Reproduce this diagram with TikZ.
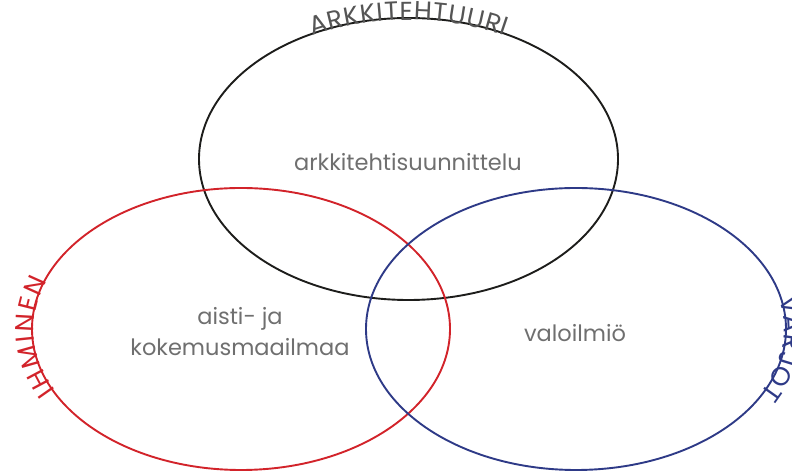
\documentclass[tikz,border=0pt]{standalone}
\usepackage{fontspec}
\setmainfont{Poppins}
\usetikzlibrary{decorations.text,calc}
\definecolor{archc}{HTML}{1D1D1B}
\definecolor{redc}{HTML}{D2232A}
\definecolor{bluec}{HTML}{2E3A87}
\definecolor{txtc}{HTML}{6F6F6F}
\definecolor{capc}{HTML}{555555}
\newcommand{\arcfont}{\fontsize{26}{26}\selectfont}
\tikzset{
  ring/.style={line width=1.9pt},
  label/.style={text=txtc, font=\fontsize{22.5}{31}\selectfont, align=center, inner sep=0pt},
  arctext/.style 2 args={decorate, decoration={text along path, text align=fit to path, raise=-2pt, text color=#1, text={#2}}}
}
\begin{document}
\begin{tikzpicture}[x=1pt,y=1pt]
\useasboundingbox (0,0) rectangle (792,473);
\coordinate (cA) at (408.5,314);
\coordinate (cR) at (241,144);
\coordinate (cB) at (576,144);
\draw[ring, archc] (cA) ellipse [x radius=209.5, y radius=141];
\draw[ring, redc] (cR) ellipse [x radius=209, y radius=141];
\draw[ring, bluec] (cB) ellipse [x radius=210, y radius=141];
\begin{scope}
\arcfont
\path[arctext={capc}{ARKKITEHTUURI}]
  ($(cA)+(117.6:209.5 and 141)$) arc[start angle=117.6, end angle=62.4, x radius=209.5, y radius=141];
\path[arctext={redc}{IHMINEN}]
  ($(cR)+(206.5:209 and 141)$) arc[start angle=206.5, end angle=159.6, x radius=209, y radius=141];
\path[arctext={bluec}{VARJOT}]
  ($(cB)+(12.7:210 and 141)$) arc[start angle=12.7, end angle=-27.9, x radius=210, y radius=141];
\end{scope}
\node[label] (ark) at (408,311) {arkkitehtisuunnittelu};
\node[label] (aisti) at (240,141) {aisti- ja\\kokemusmaailmaa};
\node[label] (valo) at (575,140) {valoilmiö};
\end{tikzpicture}
\end{document}
